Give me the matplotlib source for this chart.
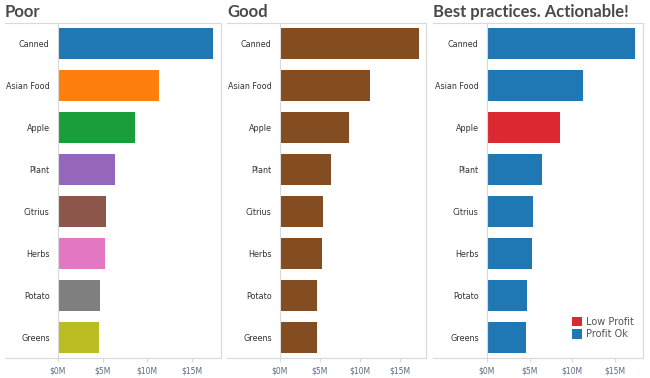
import matplotlib
matplotlib.use("Agg")
import matplotlib.pyplot as plt
from matplotlib.patches import Patch
from matplotlib.lines import Line2D

categories = ["Canned", "Asian Food", "Apple", "Plant", "Citrius", "Herbs", "Potato", "Greens"]
sales = [17.4, 11.3, 8.6, 6.4, 5.4, 5.3, 4.7, 4.6]  # $M
low_profit = [False, False, True, False, False, False, False, False]
titles = ["Poor", "Good", "Best practices. Actionable!"]
xticks = [0, 5, 10, 15]
xticklabels = ["$0M", "$5M", "$10M", "$15M"]

poor_colors = ["#1f77b4", "#ff7f0e", "#1a9e3a", "#9467bd", "#8c564b", "#e377c2", "#7f7f7f", "#bcbd22"]
good_color = "#844c21"
ok_color = "#1f77b4"
low_color = "#dc2830"

W, H = 650, 378
fig = plt.figure(figsize=(W / 100, H / 100), dpi=100)
fig.patch.set_facecolor("white")

# (panel left, axes left, axes right) in pixels
panels = [(5, 58, 221), (227, 280, 426), (433, 487, 643)]
top_px, bot_px = 23, 358
grid_c = "#d9d9d9"

for i, (pl, al, ar) in enumerate(panels):
    ax = fig.add_axes([al / W, 1 - bot_px / H, (ar - al) / W, (bot_px - top_px) / H])
    if i == 0:
        cols = poor_colors
    elif i == 1:
        cols = [good_color] * len(categories)
    else:
        cols = [low_color if lp else ok_color for lp in low_profit]
    ax.barh(range(len(categories)), sales, height=0.74, color=cols)
    ax.set_ylim(7.5, -0.5)
    ax.set_xlim(0, 18.3)
    ax.set_yticks(range(len(categories)))
    ax.set_yticklabels(categories, fontsize=5.8, color="#333333")
    ax.tick_params(axis="y", length=0, pad=6)
    ax.set_xticks(xticks)
    ax.set_xticklabels(xticklabels, fontsize=5.5, color="#5a6a80")
    ax.tick_params(axis="x", length=3, color=grid_c, pad=3)
    for s in ["left", "right", "top", "bottom"]:
        ax.spines[s].set_color(grid_c)
        ax.spines[s].set_linewidth(0.8)
    # extend top and bottom lines over label area
    for ypx in (top_px, bot_px):
        fig.add_artist(Line2D([pl / W, al / W], [1 - ypx / H, 1 - ypx / H],
                              color=grid_c, linewidth=0.8, transform=fig.transFigure))
    fig.text(pl / W, 1 - 12 / H, titles[i], fontsize=12, fontweight="bold",
             color="#4a4a4a", va="center", ha="left", family=["Lato", "DejaVu Sans"])
    if i == 2:
        handles = [Patch(facecolor=low_color, label="Low Profit"),
                   Patch(facecolor=ok_color, label="Profit Ok")]
        ax.legend(handles=handles, loc="lower right", bbox_to_anchor=(1.0, 0.03),
                  frameon=False, fontsize=7, handlelength=1.1, handleheight=1.1,
                  handletextpad=0.4, labelspacing=0.25, labelcolor="#555555")

fig.savefig("out.png", dpi=100, facecolor="white")
